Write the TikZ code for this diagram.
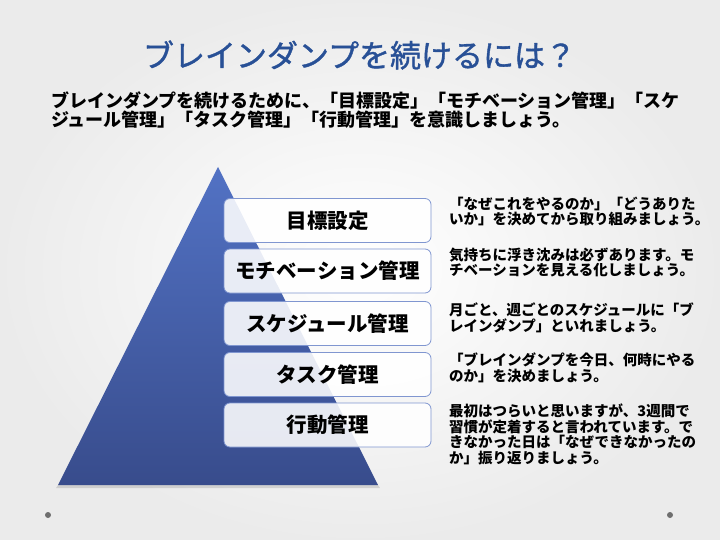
\documentclass[tikz,border=0pt]{standalone}
\usepackage{fontspec}
\setmainfont{Noto Sans CJK JP}
\newfontfamily\cjk{Noto Sans CJK JP}
\newfontfamily\cjktitle[FakeBold=1.2]{Noto Sans CJK JP}
\usetikzlibrary{shadings}
\definecolor{titleblue}{RGB}{40,80,150}
\definecolor{pyrtop}{RGB}{82,114,196}
\definecolor{pyrbot}{RGB}{56,76,140}
\definecolor{boxline}{RGB}{128,150,208}
\definecolor{dotgray}{RGB}{110,110,110}
\tikzset{
  layerbox/.style={draw=boxline, line width=0.8pt, fill=white, fill opacity=0.88, text opacity=1,
    rounded corners=6pt, minimum width=207pt, minimum height=44pt, inner sep=0pt,
    font=\cjk\bfseries\fontsize{20.5}{23}\selectfont},
  note/.style={anchor=north west, inner sep=0pt, align=left,
    font=\cjk\bfseries\fontsize{14.5}{15.6}\selectfont},
}
\begin{document}
\begin{tikzpicture}[x=1pt,y=-1pt]
\useasboundingbox (0,0) rectangle (720,540);
\shade[inner color=white, outer color=gray!16] (-10,-10) rectangle (730,550);
\fill[dotgray] (48,515) circle (3);
\fill[dotgray] (670,515) circle (3);
% title
\node[font=\cjktitle\fontsize{31}{34}\selectfont, text=titleblue, inner sep=0pt] (title) at (359.5,55) {ブレインダンプを続けるには？};
% subtitle
\node[anchor=north west, inner sep=0pt, align=left, font=\cjk\bfseries\fontsize{18}{19}\selectfont] (sub) at (51,91)
 {ブレインダンプを続けるために、「目標設定」「モチベーション管理」「スケ\\ジュール管理」「タスク管理」「行動管理」を意識しましょう。};
% pyramid shadow
\fill[black, opacity=0.12] (58,485) -- (378,485) -- (380,488) -- (56,488) -- cycle;
% pyramid
\shade[top color=pyrtop, bottom color=pyrbot] (218,167) -- (378,485) -- (58,485) -- cycle;
% boxes
\node[layerbox] (b1) at (327.5,220.5) {目標設定};
\node[layerbox] (b2) at (327.5,271) {モチベーション管理};
\node[layerbox] (b3) at (327.5,323.5) {スケジュール管理};
\node[layerbox] (b4) at (327.5,374.5) {タスク管理};
\node[layerbox] (b5) at (327.5,425) {行動管理};
% notes
\node[note] (n1) at (449,196.5) {「なぜこれをやるのか」「どうありた\\いか」を決めてから取り組みましょう。};
\node[note] (n2) at (449,247.5) {気持ちに浮き沈みは必ずあります。モ\\チベーションを見える化しましょう。};
\node[note] (n3) at (449,303) {月ごと、週ごとのスケジュールに「ブ\\レインダンプ」といれましょう。};
\node[note] (n4) at (449,352.5) {「ブレインダンプを今日、何時にやる\\のか」を決めましょう。};
\node[note] (n5) at (449,403.5) {最初はつらいと思いますが、3週間で\\習慣が定着すると言われています。で\\きなかった日は「なぜできなかったの\\か」振り返りましょう。};
\end{tikzpicture}
\end{document}
